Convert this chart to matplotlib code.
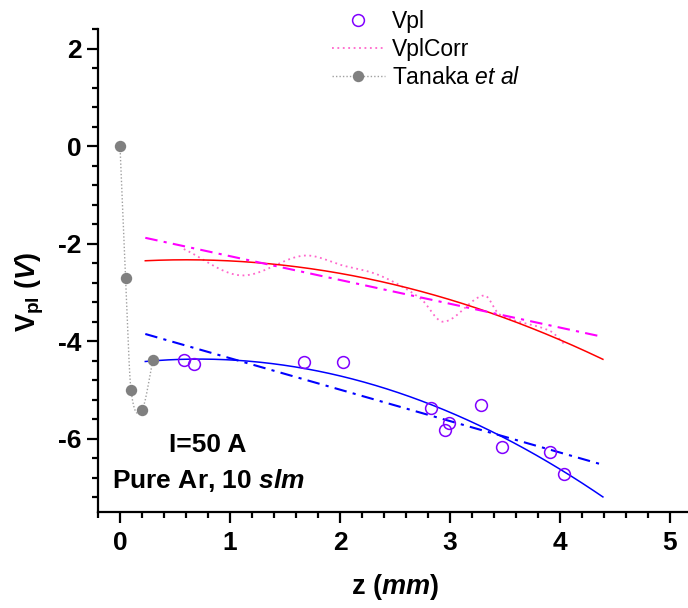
import numpy as np
import matplotlib
matplotlib.use("Agg")
import matplotlib.pyplot as plt
from matplotlib.lines import Line2D

plt.rcParams['font.family'] = ['Liberation Sans', 'DejaVu Sans']
plt.rcParams['mathtext.fontset'] = 'custom'
plt.rcParams['mathtext.rm'] = 'Liberation Sans'
plt.rcParams['mathtext.bf'] = 'Liberation Sans:bold'
plt.rcParams['mathtext.it'] = 'Liberation Sans:italic'
plt.rcParams['mathtext.bfit'] = 'Liberation Sans:bold:italic'
plt.rcParams['axes.unicode_minus'] = False

# ---- data ----
z_vpl = [0.58, 0.67, 1.67, 2.03, 2.83, 2.95, 2.99, 3.28, 3.47, 3.91, 4.04]
vpl = [-4.39, -4.46, -4.42, -4.43, -5.37, -5.82, -5.67, -5.31, -6.17, -6.28, -6.73]
z_corr = [0.58, 1.10, 1.67, 2.03, 2.36, 2.73, 2.94, 3.31, 3.45, 3.91, 4.04]
vpl_corr = [-2.11, -2.65, -2.245, -2.45, -2.65, -3.12, -3.60, -3.06, -3.45, -3.79, -4.06]
corr_quad_fit = [-0.1421, 0.1709, -2.382]   # coefficients
corr_lin_fit = [-0.488, -1.768]             # coefficients
z_tanaka = [0.0, 0.05, 0.10, 0.20, 0.30]
v_tanaka = [0.0, -2.70, -5.00, -5.40, -4.38]
fit_range = [0.23, 4.39]


def smooth_connect(x, y, n=40):
    """Catmull-Rom style cubic Hermite connection through the points."""
    x = np.asarray(x, float)
    y = np.asarray(y, float)
    m = len(x)
    t = np.zeros(m)
    t[0] = (y[1] - y[0]) / (x[1] - x[0])
    t[-1] = (y[-1] - y[-2]) / (x[-1] - x[-2])
    for i in range(1, m - 1):
        t[i] = (y[i + 1] - y[i - 1]) / (x[i + 1] - x[i - 1])
    xs_all, ys_all = [], []
    for i in range(m - 1):
        h = x[i + 1] - x[i]
        s = np.linspace(0, 1, n)
        h00 = 2 * s ** 3 - 3 * s ** 2 + 1
        h10 = s ** 3 - 2 * s ** 2 + s
        h01 = -2 * s ** 3 + 3 * s ** 2
        h11 = s ** 3 - s ** 2
        xs_all.append(x[i] + s * h)
        ys_all.append(h00 * y[i] + h10 * h * t[i] + h01 * y[i + 1] + h11 * h * t[i + 1])
    return np.concatenate(xs_all), np.concatenate(ys_all)


fig = plt.figure(figsize=(6.88, 6.08), dpi=100)
ax = fig.add_axes([98 / 688, 1 - 512 / 608, (692 - 98) / 688, (512 - 29) / 608])

zf = np.linspace(fit_range[0], fit_range[1], 200)

gray_line = '#a0a0a0'
pink = '#FF66CC'

# Tanaka
xs, ys = smooth_connect(z_tanaka, v_tanaka)
ax.plot(xs, ys, color=gray_line, ls=(0, (1, 1.5)), lw=1.0, zorder=2)
ax.plot(z_tanaka, v_tanaka, 'o', color='#808080', ms=8.2, mec='none', zorder=3)

# VplCorr
xs, ys = smooth_connect(z_corr, vpl_corr)
ax.plot(xs, ys, color=pink, ls=(0, (1, 2)), lw=1.3, zorder=2)
ax.plot(zf, np.polyval(corr_quad_fit, zf), color='#FF0000', lw=1.1, zorder=2)
ax.plot(zf, np.polyval(corr_lin_fit, zf), color='#FF00FF', lw=1.5, ls=(0, (6, 3, 1.5, 3)), zorder=2)

# Vpl
p2b = np.polyfit(z_vpl, vpl, 2)
p1b = np.polyfit(z_vpl, vpl, 1)
ax.plot(zf, np.polyval(p2b, zf), color='#0000FF', lw=1.1, zorder=2)
ax.plot(zf, np.polyval(p1b, zf), color='#0000FF', lw=1.5, ls=(0, (6, 3, 1.5, 3)), zorder=2)
ax.plot(z_vpl, vpl, 'o', mfc='none', mec='#8000FF', ms=8.5, mew=1.1, zorder=4)

ax.set_xlim(-0.2, 5.2)
ax.set_ylim(-7.5, 2.4)
ax.set_xticks([0, 1, 2, 3, 4, 5])
ax.set_yticks([-6, -4, -2, 0, 2])
ax.set_xticks(np.arange(-0.2, 5.21, 0.2), minor=True)
ax.set_yticks(np.arange(-7.2, 2.41, 0.4), minor=True)
for s in ['top', 'right']:
    ax.spines[s].set_visible(False)
for s in ['left', 'bottom']:
    ax.spines[s].set_linewidth(1.6)
ax.tick_params(which='major', length=8, width=1.6, direction='out', labelsize=19, pad=4)
ax.tick_params(which='minor', length=4.5, width=1.6, direction='out')
ax.tick_params(axis='x', which='major', pad=6)
for lab in ax.get_xticklabels() + ax.get_yticklabels():
    lab.set_fontweight('bold')

fig.text(395 / 688, 1 - 587 / 608, r'z ($\mathbfit{mm}$)', fontsize=19.5,
         fontweight='bold', ha='center', va='center')
fig.text(30 / 688, 1 - 292 / 608, r'$\mathbf{V}_{\mathbf{pl}}$ ($\mathbfit{V}$)',
         fontsize=19.5, fontweight='bold', ha='center', va='center', rotation=90)

fig.text(208 / 688, 1 - 445 / 608, 'I=50 A', fontsize=19, fontweight='bold',
         ha='center', va='center')
fig.text(208 / 688, 1 - 481 / 608, r'Pure Ar, 10 $\mathbfit{slm}$', fontsize=19,
         fontweight='bold', ha='center', va='center')

handles = [
    Line2D([], [], ls='none', marker='o', mfc='none', mec='#8000FF', ms=8.5, mew=1.1),
    Line2D([], [], color=pink, ls=(0, (1, 2)), lw=1.3),
    Line2D([], [], color=gray_line, ls=(0, (1, 1.5)), lw=1.0, marker='o',
           mfc='#808080', mec='none', ms=8.2),
]
labels = ['Vpl', 'VplCorr', r'Tanaka $\mathit{et\ al}$']
fig.legend(handles, labels, loc='upper left', bbox_to_anchor=(332 / 688, 1 - 10 / 608),
           frameon=False, fontsize=16.5, handlelength=2.3, handletextpad=0.3,
           borderpad=0, borderaxespad=0, labelspacing=0.22)

fig.savefig('out.png', dpi=100)
